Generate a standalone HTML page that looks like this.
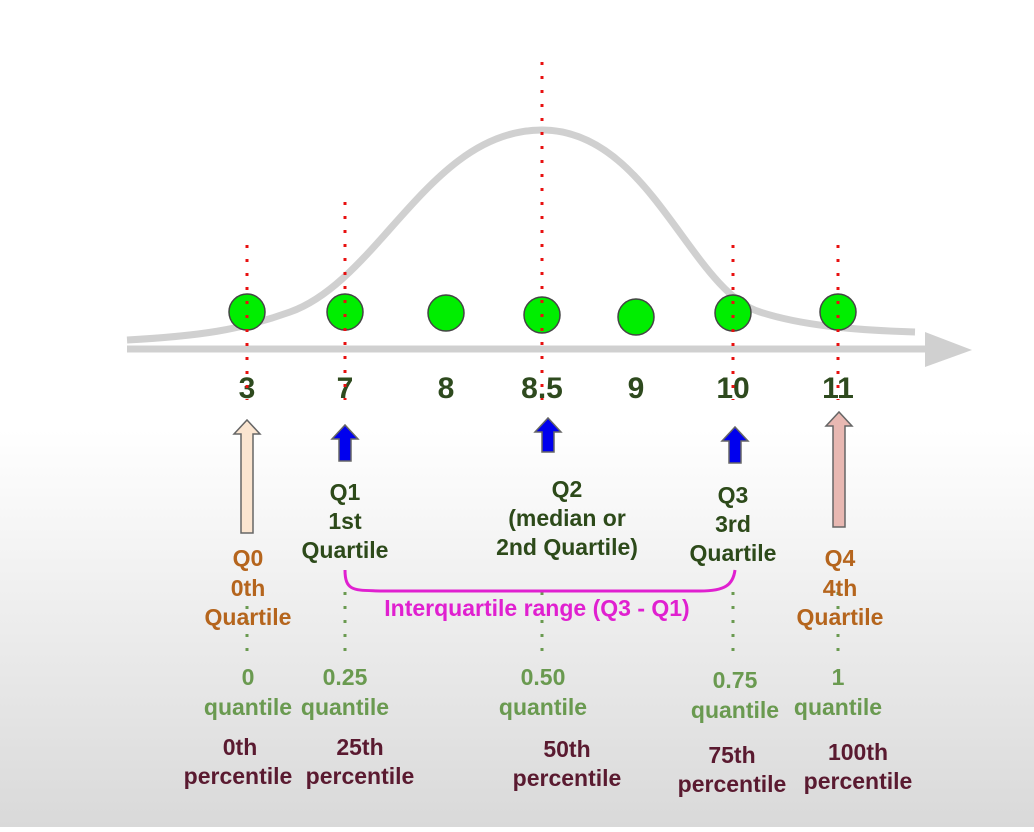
<!DOCTYPE html>
<html><head><meta charset="utf-8"><style>
html,body{margin:0;padding:0}
body{width:1034px;height:827px;overflow:hidden;background:linear-gradient(to bottom,#fff 0,#fff 430px,#d9d9d9 827px);font-family:"Liberation Sans",sans-serif}
svg text{font-family:"Liberation Sans",sans-serif;font-weight:bold;text-anchor:middle}
</style></head><body>
<svg id="chart" width="1034" height="827" viewBox="0 0 1034 827" xmlns="http://www.w3.org/2000/svg">
<g id="curve"></g>
<g id="axis"></g>
<g id="pts"></g>
<g id="guides"></g>
<g id="labels"></g>
</svg>
<script>
const values=[3,7,8,8.5,9,10,11];
const pointX=[247,345,446,542,636,733,838];
const pointY=[312,312,313,315,317,313,312];
const quartileIdx=[0,1,3,5,6];
const quantiles=["0","0.25","0.50","0.75","1"];
const percentiles=["0th","25th","50th","75th","100th"];
const NS="http://www.w3.org/2000/svg";
function mk(tag,attrs,parent){const e=document.createElementNS(NS,tag);for(const k in attrs)e.setAttribute(k,attrs[k]);parent.appendChild(e);return e;}
function xOf(i){return pointX[i];}
const cg=document.getElementById('curve');
const cp=mk('path',{d:"M127,340 C200,336 240,330 290,312 C380,280 430,130 542,130 C650,130 690,290 760,312 C800,325 850,330 915,332",fill:"none",stroke:"#d0d0d0","stroke-width":7},cg);


const ag=document.getElementById('axis');
const al=mk('line',{x1:127,y1:349,x2:930,y2:349,stroke:"#d0d0d0","stroke-width":7},ag);


const ah=mk('polygon',{points:"925,332 972,350 925,367",fill:"#d0d0d0"},ag);


const pg=document.getElementById('pts');
values.forEach((v,i)=>{
 const c=mk('circle',{cx:xOf(i),cy:pointY[i],r:18,fill:"#00ee00",stroke:"#444","stroke-width":1.5},pg);
 
 
 const t=mk('text',{x:xOf(i),y:398,fill:"#2e4a1e","font-size":30},pg);
 t.textContent=String(v);
 
 
});
const gg=document.getElementById('guides');
const tops=[245,202,62,245,245];
quartileIdx.forEach((pi,q)=>{
 const x=xOf(pi);
 const l=mk('line',{x1:x,y1:tops[q],x2:x,y2:400,stroke:"#e81010","stroke-width":3,"stroke-dasharray":"3 11"},gg);
 
 
 const g2=mk('line',{x1:x,y1:592,x2:x,y2:652,stroke:"#6a9a50","stroke-width":3,"stroke-dasharray":"3 11"},gg);
 
 
});
function arrow(x,y1,y2,fill,name){
 const w=6,hw=13,hh=14;
 const a=mk('polygon',{points:`${x-w},${y2} ${x-w},${y1+hh} ${x-hw},${y1+hh} ${x},${y1} ${x+hw},${y1+hh} ${x+w},${y1+hh} ${x+w},${y2}`,fill:fill,stroke:"#666","stroke-width":1.5},gg);
 
 
}
arrow(xOf(0),420,533,"#fbe5d0","q0-arrow");
arrow(xOf(1),425,461,"#0000ee","q1-arrow");
arrow(xOf(3)+6,418,452,"#0000ee","q2-arrow");
arrow(xOf(5)+2,427,463,"#0000ee","q3-arrow");
arrow(xOf(6)+1,412,527,"#e8b8b2","q4-arrow");
const br=mk('path',{d:`M${xOf(1)},570 C${xOf(1)},592 355,590 380,591 L700,591 C725,591 733,585 735,570`,fill:"none",stroke:"#e020d0","stroke-width":3},gg);


const lg=document.getElementById('labels');
function txt(x,y,s,col,name,size){const t=mk('text',{x:x,y:y,fill:col,"font-size":size||23},lg);t.textContent=s;return t;}
const dg="#2d4a1a",org="#b5651d";
txt(345,500,"Q1",dg,"q1-label");txt(345,529,"1st",dg,"q1-ordinal");txt(345,558,"Quartile",dg,"q1-quartile");
txt(567,497,"Q2",dg,"q2-label");txt(567,526,"(median or",dg,"q2-median");txt(567,555,"2nd Quartile)",dg,"q2-quartile");
txt(733,503,"Q3",dg,"q3-label");txt(733,532,"3rd",dg,"q3-ordinal");txt(733,561,"Quartile",dg,"q3-quartile");
txt(248,566,"Q0",org,"q0-label");txt(248,596,"0th",org,"q0-ordinal");txt(248,625,"Quartile",org,"q0-quartile");
txt(840,566,"Q4",org,"q4-label");txt(840,596,"4th",org,"q4-ordinal");txt(840,625,"Quartile",org,"q4-quartile");
txt(537,616,"Interquartile range (Q3 - Q1)","#e020d0","iqr-label");
const qx=[248,345,543,735,838],qy=[685,685,685,688,685];
const px=[240,360,567,732,858],py=[755,755,757,763,760];
quantiles.forEach((s,i)=>{
 txt(qx[i],qy[i],s,"#6a9a50","quantile-value-"+i);
 txt(qx[i],qy[i]+30,"quantile","#6a9a50","quantile-word-"+i);
});
percentiles.forEach((s,i)=>{
 txt(px[i],py[i],s,"#5a1a30","percentile-value-"+i);
 txt(px[i]-(i==0?2:0),py[i]+29,"percentile","#5a1a30","percentile-word-"+i);
});
</script>
</body></html>
